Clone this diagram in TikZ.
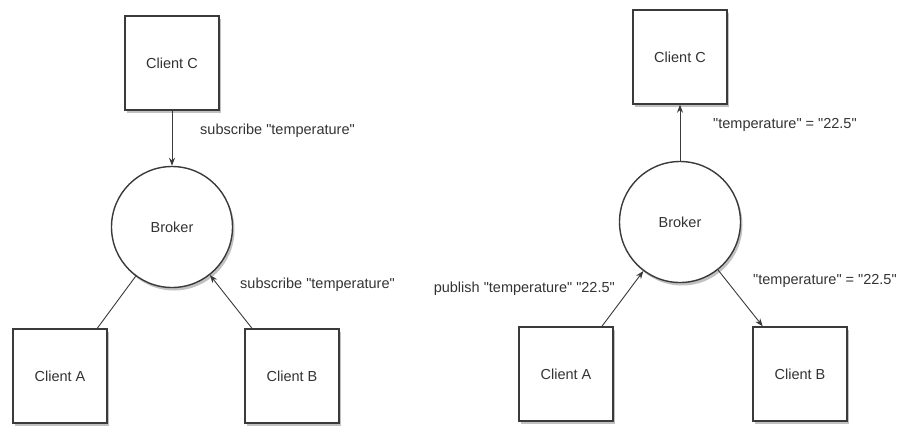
\documentclass[tikz,border=0pt]{standalone}
\usepackage{fontspec}
\setmainfont{Liberation Sans}[Ligatures=TeXOff]
\usetikzlibrary{shadows,arrows.meta}
\definecolor{ink}{HTML}{333333}
\definecolor{edge}{HTML}{3A3A3A}
\tikzset{
  client/.style={draw=edge, line width=1.4bp, fill=white, minimum size=94bp,
    inner sep=0pt, text=ink, font=\fontsize{14.5bp}{16bp}\selectfont,
    drop shadow={shadow xshift=2bp, shadow yshift=-3bp, opacity=0.35, fill=black!70}},
  broker/.style={circle, draw=edge, line width=1.4bp, fill=white, minimum size=121bp,
    inner sep=0pt, text=ink, font=\fontsize{14.5bp}{16bp}\selectfont,
    drop shadow={shadow xshift=2bp, shadow yshift=-3bp, opacity=0.35, fill=black!70}},
  msg/.style={text=ink, inner sep=0pt, font=\fontsize{14.5bp}{16bp}\selectfont},
  link/.style={draw=edge, line width=0.9bp},
  flow/.style={link, -{Stealth[length=8bp,width=6bp]}}
}
\begin{document}
\begin{tikzpicture}[x=1bp, y=-1bp]
  \useasboundingbox (0,0) rectangle (902,425);

  % subscribe phase
  \node[client] (lc) at (172,63) {Client C};
  \node[broker] (lb) at (172,227) {Broker};
  \node[client] (la) at (60,376) {Client A};
  \node[client] (lB) at (292,376) {Client B};

  \draw[flow] (lc) -- (lb);
  \draw[link] (la.52) -- (lb);
  \draw[flow] (lB.130) -- (lb);

  \node[msg, anchor=west] (lsub1) at (200,131) {subscribe "temperature"};
  \node[msg, anchor=west] (lsub2) at (240,285) {subscribe "temperature"};

  % publish phase
  \node[client] (rc) at (680,57) {Client C};
  \node[broker] (rb) at (680,222) {Broker};
  \node[client] (ra) at (566,374) {Client A};
  \node[client] (rB) at (800,374) {Client B};

  \draw[flow] (rb) -- (rc);
  \draw[flow] (ra.53) -- (rb);
  \draw[flow] (rb) -- (rB.128);

  \node[msg, anchor=west] (rval1) at (713,125) {"temperature" = "22.5"};
  \node[msg, anchor=east] (rpub) at (615,289) {publish "temperature" "22.5"};
  \node[msg, anchor=west] (rval2) at (753,281) {"temperature" = "22.5"};
\end{tikzpicture}
\end{document}
